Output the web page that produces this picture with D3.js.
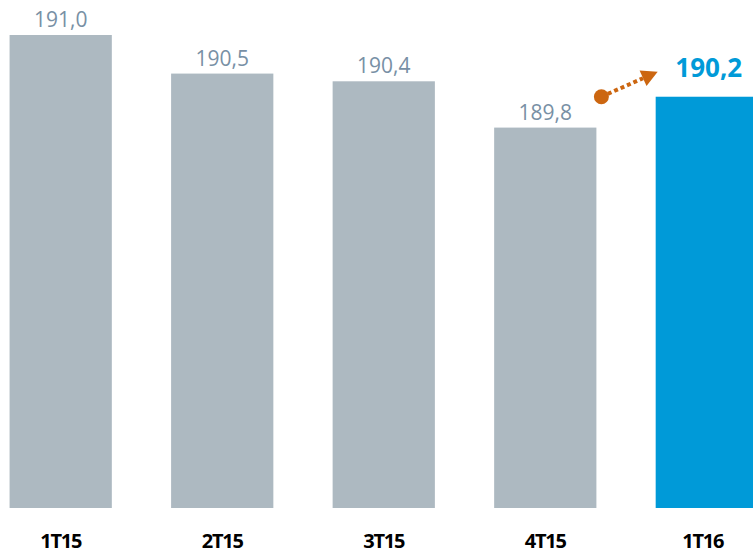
<!DOCTYPE html>
<html>
<head>
    <script src="https://cdnjs.cloudflare.com/ajax/libs/d3/7.8.5/d3.min.js"></script>
    <style>
    body{ margin:0; background:#fff; }
    svg{ display:block; }
    </style>
</head>
<body>
    <svg width="753" height="554"></svg>
    <script>
        // quarters and headcount values
        var categories = ["1T15", "2T15", "3T15", "4T15", "1T16"];
        var values = [191.0, 190.5, 190.4, 189.8, 190.2];
        var labels = ["191,0", "190,5", "190,4", "189,8", "190,2"];
        var highlight = "1T16";

        var svg = d3.select("svg");

        var x = d3.scaleBand()
            .domain(categories)
            .range([-19.5, 787])
            .paddingInner(0.367)
            .paddingOuter(0.18);

        var y = d3.scaleLinear()
            .domain([184.87, 191])
            .range([508, 35]);

        var gray = "#adb9c1", blue = "#009ad8", orange = "#cc6610";

        var rows = categories.map(function(c, i){
            return {cat: c, val: values[i], label: labels[i]};
        });

        svg.selectAll("rect.bar")
            .data(rows)
            .enter()
            .append("rect")
            .attr("class", "bar")
            .attr("x", function(d){ return x(d.cat); })
            .attr("width", x.bandwidth())
            .attr("y", function(d){ return y(d.val); })
            .attr("height", function(d){ return y.range()[0] - y(d.val); })
            .attr("fill", function(d){ return d.cat == highlight ? blue : gray; });

        svg.selectAll("text.val")
            .data(rows)
            .enter()
            .append("text")
            .attr("class", "val")
            .attr("x", function(d){ return x(d.cat) + x.bandwidth()/2 + (d.cat == highlight ? 2 : 0); })
            .attr("y", function(d){ return y(d.val) - (d.cat == highlight ? 20 : 8); })
            .attr("text-anchor", "middle")
            .attr("font-family", "'Open Sans', sans-serif")
            .attr("font-size", function(d){ return d.cat == highlight ? "26px" : "21px"; })
            .attr("font-weight", function(d){ return d.cat == highlight ? "bold" : "normal"; })
            .attr("fill", function(d){ return d.cat == highlight ? blue : "#7890a5"; })
            .text(function(d){ return d.label; });

        svg.selectAll("text.cat")
            .data(categories)
            .enter()
            .append("text")
            .attr("class", "cat")
            .attr("x", function(d){ return x(d) + x.bandwidth()/2 + (d == highlight ? -4 : 0); })
            .attr("y", 548)
            .attr("text-anchor", "middle")
            .attr("font-family", "'Open Sans', sans-serif")
            .attr("font-size", "20px")
            .attr("font-weight", "bold")
            .attr("letter-spacing", "-1.2px")
            .attr("fill", "#000")
            .text(function(d){ return d; });

        // growth arrow from 4T15 towards 1T16
        var last = rows[rows.length-1], prev = rows[rows.length-2];
        var x0 = x(prev.cat) + x.bandwidth() + 5, y0 = y(last.val);
        var x1 = x(last.cat) + 2, y1 = y(last.val) - 25;
        var ang = Math.atan2(y1 - y0, x1 - x0);
        var back = 16;
        svg.append("line")
            .attr("x1", x0).attr("y1", y0)
            .attr("x2", x1 - back*Math.cos(ang)).attr("y2", y1 - back*Math.sin(ang))
            .attr("stroke", orange)
            .attr("stroke-width", 4)
            .attr("stroke-dasharray", "4 3");
        svg.append("circle")
            .attr("cx", x0).attr("cy", y0).attr("r", 7.5)
            .attr("fill", orange);
        var hw = 8.5;
        var bx = x1 - back*Math.cos(ang), by = y1 - back*Math.sin(ang);
        svg.append("path")
            .attr("d", "M" + x1 + "," + y1 +
                "L" + (bx - hw*Math.sin(ang)) + "," + (by + hw*Math.cos(ang)) +
                "L" + (bx + hw*Math.sin(ang)) + "," + (by - hw*Math.cos(ang)) + "Z")
            .attr("fill", orange);
    </script>
</body>
</html>
